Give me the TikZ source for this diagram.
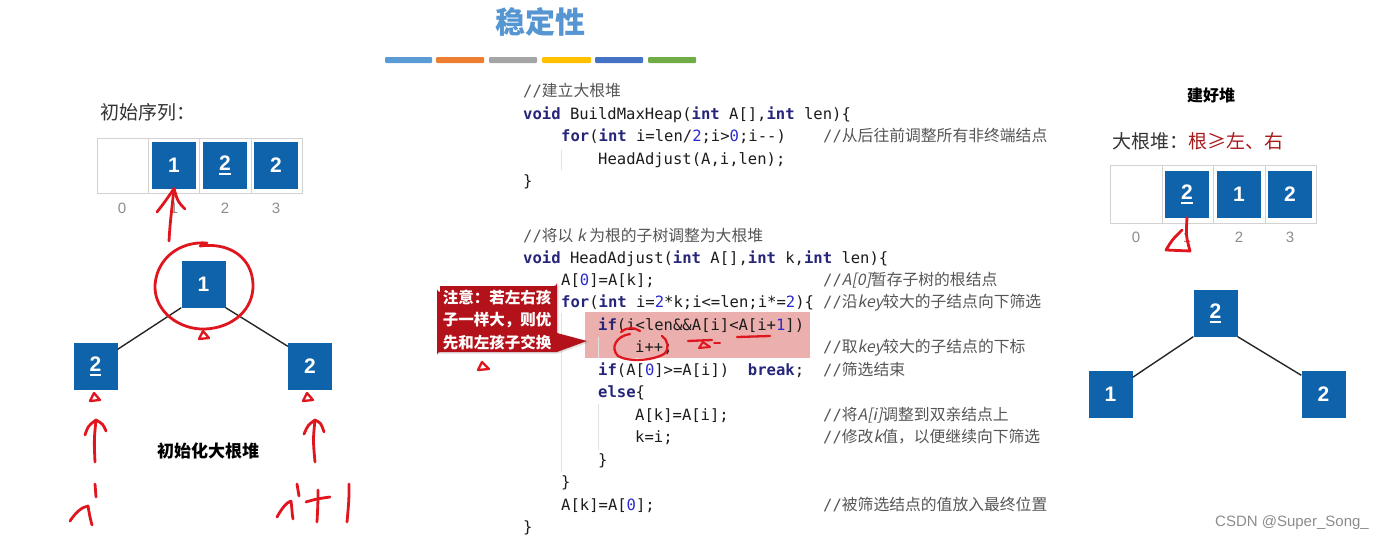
\documentclass[tikz,border=0pt]{standalone}
\usepackage{fontspec}
\setmainfont{Liberation Sans}
\newfontfamily\cjk{Noto Sans CJK SC}
\newfontfamily\cjkit[FakeSlant=0.2]{Noto Sans CJK SC}
\newfontfamily\code{DejaVu Sans Mono}
\usetikzlibrary{shadows}
\definecolor{boxblue}{HTML}{0F63AB}
\definecolor{titleblue}{HTML}{5596D2}
\definecolor{idxgray}{HTML}{8C8C8C}
\definecolor{cellgray}{HTML}{D2D2D2}
\definecolor{handred}{HTML}{E0161E}
\definecolor{callred}{HTML}{B3121B}
\definecolor{hilite}{HTML}{EBB0AE}
\definecolor{darkred}{HTML}{A8191C}
\definecolor{codec}{HTML}{1C1C1C}
\definecolor{kwc}{HTML}{25257A}
\definecolor{numc}{HTML}{2A2AD0}
\definecolor{cmtc}{HTML}{555555}
\definecolor{guide}{HTML}{E2E2E2}
\definecolor{barA}{HTML}{5B9BD5}
\definecolor{barB}{HTML}{ED7D31}
\definecolor{barC}{HTML}{A5A5A5}
\definecolor{barD}{HTML}{FFC000}
\definecolor{barE}{HTML}{4472C4}
\definecolor{barF}{HTML}{70AD47}
\newcommand\kw[1]{{\bfseries\color{kwc}#1}}
\newcommand\nm[1]{{\color{numc}#1}}
\newcommand\slsh{{\code\fontsize{15.55}{18}\selectfont//}}
\newcommand\ci[1]{{\cjkit #1}}
\newcommand\ultwo{\setbox0\hbox{2}\rlap{\copy0}\raisebox{-4.5pt}{\rule{\wd0}{1.6pt}}}
\tikzset{
  bbox/.style={fill=boxblue, minimum width=44pt, minimum height=47pt, inner sep=0pt, text=white, font=\fontsize{21}{21}\selectfont\bfseries},
  idx/.style={text=idxgray, font=\fontsize{15}{15}\selectfont, inner sep=0pt},
  cell/.style={draw=cellgray, line width=1pt},
  edge/.style={line width=1.4pt, draw=black!85},
  hand/.style={draw=handred, line width=2.8pt, line cap=round, line join=round},
  handthin/.style={hand, line width=2.3pt},
  codeline/.style={anchor=base west, inner sep=0pt, font=\code\fontsize{15.55}{18}\selectfont, text=codec},
  cmt/.style={anchor=base west, inner sep=0pt, font=\cjk\fontsize{15.8}{18}\selectfont, text=cmtc},
  lbl/.style={inner sep=0pt, font=\cjk\fontsize{19}{19}\selectfont, text=black!80},
}
\begin{document}
\begin{tikzpicture}[x=1pt,y=-1pt]
\useasboundingbox (0,0) rectangle (1385,541);
% title and bars
\node[font=\cjk\bfseries\fontsize{30}{30}\selectfont, text=titleblue] (title) at (540,22) {稳定性};
\fill[barA, rounded corners=1pt] (385,57) rectangle (432,63);
\fill[barB, rounded corners=1pt] (436,57) rectangle (484,63);
\fill[barC, rounded corners=1pt] (489,57) rectangle (537,63);
\fill[barD, rounded corners=1pt] (542,57) rectangle (591,63);
\fill[barE, rounded corners=1pt] (595,57) rectangle (643,63);
\fill[barF, rounded corners=1pt] (648,57) rectangle (696,63);

% ---------------- left: initial sequence
\node[lbl, anchor=west] (initlbl) at (100,112) {初始序列：};
\draw[cell] (97,138) rectangle (302,193);
\draw[cell] (148,138) -- (148,193) (199,138) -- (199,193) (251,138) -- (251,193);
\node[bbox] (a1) at (174,165) {1};
\node[bbox] (a2) at (225,165) {\ultwo};
\node[bbox] (a3) at (276,165) {2};
\node[idx] (i0) at (122,208) {0};
\node[idx] (i1) at (174,208) {1};
\node[idx] (i2) at (225,208) {2};
\node[idx] (i3) at (276,208) {3};
\coordinate (arrA) at (169,241);
\draw[hand] (arrA) .. controls (170,225) .. (a1.south);
\draw[hand] (157,212) .. controls (164,203) .. (a1.south) .. controls (178,202) .. (185,209);

% left tree
\node[bbox] (r1) at (203.5,284) {1};
\node[bbox] (l1) at (95.5,366) {\ultwo};
\node[bbox] (l2) at (310,366) {2};
\draw[edge] (r1.south west) -- ([yshift=-7pt]l1.north east);
\draw[edge] (r1.south east) -- ([yshift=-4pt]l2.north west);
\draw[hand] (207,243) .. controls (180,241) and (157,258) .. (155,285)
  .. controls (154,312) and (180,330) .. (205,329)
  .. controls (232,328) and (254,310) .. (253,284)
  .. controls (252,258) and (230,242) .. (200,246);
\draw[handthin] (203,331) -- (199,339) -- (209,338) -- cycle;
\draw[handthin] (94,393) -- (90,401) -- (100,400) -- cycle;
\draw[handthin] (307,393) -- (303,401) -- (313,400) -- cycle;
% arrows to children
\coordinate (arrL) at (95,462);
\draw[hand] (arrL) .. controls (94,440) .. (96,420);
\draw[hand] (85,435) .. controls (88,426) .. (96,420) .. controls (103,424) .. (106,431);
\coordinate (arrR) at (315,462);
\draw[hand] (arrR) .. controls (313,440) .. (315,420);
\draw[hand] (304,434) .. controls (308,425) .. (315,420) .. controls (321,423) .. (324,432);
\node[font=\cjk\bfseries\fontsize{17}{17}\selectfont, inner sep=0pt] (initheap) at (208,451) {初始化大根堆};
% handwritten i and i+1
\draw[hand] (70,521) .. controls (76,512) and (82,507) .. (88,506) .. controls (89,512) and (90,518) .. (92,525);
\draw[hand] (95,484) -- (96,497);
\draw[hand] (277,517) .. controls (282,508) and (287,502) .. (291,501) .. controls (292,508) and (292,514) .. (293,519);
\draw[hand] (297,484) -- (299,496);
\draw[hand] (318,490) .. controls (318,502) .. (317,522);
\draw[hand] (306,502) .. controls (316,499) .. (330,497);
\draw[hand] (349,484) .. controls (349,500) .. (347,522);

% ---------------- code
\fill[hilite] (585,312) rectangle (810,358);
\draw[guide, line width=1pt] (561,150) -- (561,170);
\draw[guide, line width=1pt] (561,313) -- (561,472);
\draw[guide, line width=1pt] (598,337) -- (598,358);
\draw[guide, line width=1pt] (598,404) -- (598,450);

\node[codeline] (c1) at (523,96) {{\color{cmtc}//}{\cjk\fontsize{15.8}{18}\selectfont\color{cmtc}建立大根堆}};
\node[codeline] (c2) at (523,119) {\kw{void} BuildMaxHeap(\kw{int} A[],\kw{int} len)\{};
\node[codeline] (c3) at (561,141) {\kw{for}(\kw{int} i=len/\nm{2};i>\nm{0};i-{}-)};
\node[cmt] (m3) at (823,141) {\slsh 从后往前调整所有非终端结点};
\node[codeline] (c4) at (598,164) {HeadAdjust(A,i,len);};
\node[codeline] (c5) at (523,186) {\}};
\node[cmt] (c6) at (523,241) {\slsh 将以 \ci{k} 为根的子树调整为大根堆};
\node[codeline] (c7) at (523,263) {\kw{void} HeadAdjust(\kw{int} A[],\kw{int} k,\kw{int} len)\{};
\node[codeline] (c8) at (561,285) {A[\nm{0}]=A[k];};
\node[cmt] (m8) at (823,285) {\slsh\ci{A[0]}暂存子树的根结点};
\node[codeline] (c9) at (561,307) {\kw{for}(\kw{int} i=\nm{2}*k;i<=len;i*=\nm{2})\{};
\node[cmt] (m9) at (823,307) {\slsh 沿\ci{key}较大的子结点向下筛选};
\node[codeline] (c10) at (598,330) {\kw{if}(i<len\&\&A[i]<A[i+\nm{1}])};
\node[codeline] (c11) at (635,352) {i++;};
\node[cmt] (m11) at (823,352) {\slsh 取\ci{key}较大的子结点的下标};
\node[codeline] (c12) at (598,375) {\kw{if}(A[\nm{0}]>=A[i])\ \ \kw{break};};
\node[cmt] (m12) at (823,375) {\slsh 筛选结束};
\node[codeline] (c13) at (598,397) {\kw{else}\{};
\node[codeline] (c14) at (635,420) {A[k]=A[i];};
\node[cmt] (m14) at (823,420) {\slsh 将\ci{A[i]}调整到双亲结点上};
\node[codeline] (c15) at (635,442) {k=i;};
\node[cmt] (m15) at (823,442) {\slsh 修改\ci{k}值，以便继续向下筛选};
\node[codeline] (c16) at (598,465) {\}};
\node[codeline] (c17) at (561,487) {\}};
\node[codeline] (c18) at (561,510) {A[k]=A[\nm{0}];};
\node[cmt] (m18) at (823,510) {\slsh 被筛选结点的值放入最终位置};
\node[codeline] (c19) at (523,532) {\}};

% hand marks in code
\draw[handthin] (621,332) .. controls (627,327) and (634,327) .. (640,331);
\draw[handthin] (630,334) .. controls (616,336) and (610,348) .. (618,356)
  .. controls (628,362) and (652,361) .. (664,354) .. controls (670,349) and (668,340) .. (662,336);
\draw[handthin] (688,341) -- (712,340);
\draw[handthin, line width=2pt] (703,342) -- (699,348) -- (710,347) -- cycle;
\draw[handthin, line width=2pt] (714,343) -- (720,343);
\draw[handthin] (737,337) -- (770,336);

% callout
\fill[callred, drop shadow={opacity=0.25, shadow xshift=1.5pt, shadow yshift=-1.5pt}]
  (440,286) -- (554,286) arc[start angle=90, end angle=0, radius=3] -- (557,333) -- (587,341) -- (557,352)
  -- (440,352) arc[start angle=270, end angle=180, radius=3] -- (437,289) arc[start angle=180, end angle=90, radius=3] -- cycle;
\node[text=white, font=\cjk\bfseries\fontsize{15.5}{22.5}\selectfont, align=center, inner sep=0pt] (callout) at (497,320)
  {注意：若左右孩\\子一样大，则优\\先和左孩子交换};
\draw[handthin] (482,362) -- (478,370) -- (489,369) -- cycle;

% ---------------- right side
\node[font=\cjk\bfseries\fontsize{16}{16}\selectfont, inner sep=0pt] (built) at (1211,95) {建好堆};
\node[lbl, anchor=west] (maxlbl) at (1112,141) {大根堆：{\color{darkred}根≥左、右}};
\draw[cell] (1110,165) rectangle (1316,223);
\draw[cell] (1162,165) -- (1162,223) (1213,165) -- (1213,223) (1265,165) -- (1265,223);
\node[bbox] (b1) at (1187,194) {\ultwo};
\node[bbox] (b2) at (1239,194) {1};
\node[bbox] (b3) at (1290,194) {2};
\node[idx] (j0) at (1136,237) {0};
\node[idx] (j1) at (1187,237) {1};
\node[idx] (j2) at (1239,237) {2};
\node[idx] (j3) at (1290,237) {3};
\draw[hand] (b1.south) .. controls (1186,236) .. (1190,251) -- (1166,250) .. controls (1172,240) .. (1182,230);

\node[bbox] (r2) at (1215.5,313) {\ultwo};
\node[bbox] (n1) at (1110.5,394) {1};
\node[bbox] (n2) at (1323.5,394) {2};
\draw[edge] (r2.south west) -- ([yshift=-7pt]n1.north east);
\draw[edge] (r2.south east) -- ([yshift=-5pt]n2.north west);

\node[text=black!45, font=\fontsize{15}{15}\selectfont, anchor=east, inner sep=0pt] (wm) at (1369,523) {CSDN @Super\_Song\_};
\end{tikzpicture}
\end{document}
